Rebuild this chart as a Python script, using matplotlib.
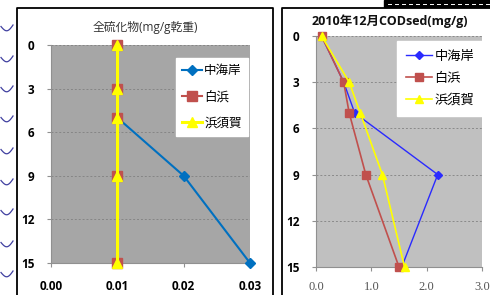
import matplotlib
matplotlib.use("Agg")
import matplotlib.pyplot as plt
import numpy as np

plt.rcParams['font.family'] = ['Open Sans', 'Noto Sans CJK JP', 'DejaVu Sans']

depths = [0, 3, 5, 9, 15]
series_names = ["中海岸", "白浜", "浜須賀"]

# Left chart: total sulfide (mg/g dry)
sulf_naka = [0.01, 0.01, 0.01, 0.02, 0.03]
sulf_shira = [0.01, 0.01, 0.01, 0.01, 0.01]
sulf_hama = [0.01, 0.01, 0.01, 0.01, 0.01]
left_title = "全硫化物(mg/g乾重)"
left_xticks = [0.00, 0.01, 0.02, 0.03]

# Right chart: CODsed (mg/g), Dec 2010
cod_naka = [0.1, 0.5, 0.7, 2.2, 1.55]
cod_shira = [0.1, 0.5, 0.6, 0.9, 1.5]
cod_hama = [0.1, 0.6, 0.8, 1.2, 1.6]
right_title = "2010年12月CODsed(mg/g)"
right_xticks = [0.0, 1.0, 2.0, 3.0]

yticks = [0, 3, 6, 9, 12, 15]

W, H = 490, 295
fig = plt.figure(figsize=(W/100, H/100), dpi=100)

# background decorations
ov = fig.add_axes([0, 0, 1, 1], zorder=0)
ov.set_xlim(0, W); ov.set_ylim(H, 0); ov.axis('off')
ov.plot([17, 17, 273, 273], [H + 5, 8, 8, H + 5], color='black', lw=1.3)
ov.plot([282, 282, W + 5], [H + 5, 8, 8], color='black', lw=1.3)
for yc in [29, 60, 90, 120, 152, 183, 213, 245, 275]:
    t = np.linspace(0, 1, 20)
    xs = 1 + 12 * t
    ys = yc - 2.5 + 5 * np.sin(np.pi * t) - 1.5 * t
    ov.plot(xs, ys, color='#4040a0', lw=0.9)
ov.add_patch(plt.Rectangle((384, 0), 106, 7, color='black'))
for xx in range(388, 488, 7):
    ov.plot([xx, xx + 3], [3.5, 3.5], color='white', lw=0.7)


def style_axes(ax, bg, gridc):
    ax.set_facecolor(bg)
    ax.set_ylim(15, 0)
    ax.set_yticks(yticks)
    ax.set_yticklabels([str(v) for v in yticks], fontweight='bold', fontsize=8.5)
    for s in ['top', 'right']:
        ax.spines[s].set_visible(False)
    for s in ['left', 'bottom']:
        ax.spines[s].set_color('#909090')
        ax.spines[s].set_linewidth(0.8)
    ax.tick_params(axis='both', length=3, color='#909090', width=0.8)
    ax.tick_params(axis='y', pad=9)
    ax.yaxis.grid(True, linestyle=(0, (2, 2)), color=gridc, lw=0.7)
    ax.set_axisbelow(True)


# left chart
axL = fig.add_axes([51/W, (H - 263)/H, 199/W, 218/H], zorder=2)
style_axes(axL, '#a6a6a6', '#858585')
axL.set_xlim(0, 0.03)
axL.set_xticks(left_xticks)
axL.set_xticklabels([f"{v:.2f}" for v in left_xticks], fontweight='bold', fontsize=8.5)
axL.tick_params(axis='x', pad=9)
axL.plot(sulf_naka, depths, color='#0070c0', marker='D', ms=5, lw=1.5, label=series_names[0], clip_on=False, zorder=3)
axL.plot(sulf_shira, depths, color='#c0504d', marker='s', ms=7, lw=1.5, label=series_names[1], clip_on=False, zorder=4)
axL.plot(sulf_hama, depths, color='#ffff00', marker='^', ms=7, lw=2.2, label=series_names[2], clip_on=False, zorder=5)
fig.text(145/W, 1 - 27/H, left_title, ha='center', va='center', fontsize=8.5, color='#333333')
legL = axL.legend(loc='upper left', bbox_to_anchor=(176/W, 1 - 58/H), bbox_transform=fig.transFigure,
                  frameon=True, fancybox=False, edgecolor='white', facecolor='white', framealpha=1,
                  fontsize=9, labelspacing=1.05, handlelength=1.6, handletextpad=0.15,
                  borderpad=0.5, borderaxespad=0)

# right chart
axR = fig.add_axes([316/W, (H - 267)/H, 166/W, 231/H], zorder=2)
style_axes(axR, '#c0c0c0', '#8a8a8a')
axR.set_xlim(0, 3.0)
axR.set_xticks(right_xticks)
axR.set_xticklabels([f"{v:.1f}" for v in right_xticks], fontsize=9,
                    family=['Liberation Serif'], color='#555555')
axR.tick_params(axis='x', pad=7)
axR.plot(cod_naka, depths, color='#2a2aff', marker='D', ms=4, lw=1.0, label=series_names[0], clip_on=False, zorder=3)
axR.plot(cod_shira, depths, color='#c0504d', marker='s', ms=6, lw=1.2, label=series_names[1], clip_on=False, zorder=4)
axR.plot(cod_hama, depths, color='#ffff00', marker='^', ms=6, lw=1.2, label=series_names[2], clip_on=False, zorder=5)
fig.text(390/W, 1 - 21/H, right_title, ha='center', va='center', fontsize=9, fontweight='bold', color='#111111')
legR = axR.legend(loc='upper left', bbox_to_anchor=(397/W, 1 - 41/H), bbox_transform=fig.transFigure,
                  frameon=True, fancybox=False, edgecolor='white', facecolor='white', framealpha=1,
                  fontsize=9.5, labelspacing=0.7, handlelength=2.0, handletextpad=0.2,
                  borderpad=0.65, borderaxespad=0)

fig.savefig("out.png", dpi=100)
